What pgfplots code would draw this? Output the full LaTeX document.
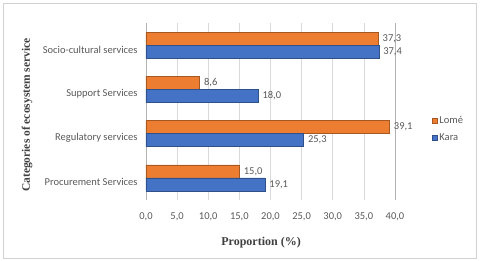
\documentclass[border=0pt]{standalone}
\usepackage{fontspec}
\setmainfont{Carlito}
\newfontfamily\titlefont{Liberation Serif}
\usepackage{pgfplots}
\pgfplotsset{compat=1.18}
\definecolor{lome}{HTML}{ED7D31}
\definecolor{kara}{HTML}{4472C4}
\definecolor{txt}{HTML}{595959}
\definecolor{ttl}{HTML}{404040}
\begin{document}
\begin{tikzpicture}[x=1pt,y=1pt]
\path (0,0) rectangle (480,261);
\draw[gray!35, line width=0.8pt] (3,3) rectangle (476,258);
\begin{axis}[
  at={(146pt,61pt)}, anchor=south west,
  scale only axis, width=249pt, height=177pt,
  xbar, bar width=13pt,
  xmin=0, xmax=40, ymin=-0.5, ymax=3.5,
  xtick={0,5,...,40},
  ytick={0,1,2,3},
  yticklabels={Procurement Services, Regulatory services, Support Services, Socio-cultural services},
  major tick length=0pt,
  xmajorgrids, grid style={gray!30, line width=0.5pt},
  separate axis lines,
  x axis line style={draw=none},
  y axis line style={gray!60},
  tick label style={font=\fontsize{10.5}{12}\selectfont, text=txt},
  yticklabel style={yshift=-4.5pt, xshift=-5pt},
  xticklabel style={yshift=-9pt, /pgf/number format/.cd, fixed, fixed zerofill, precision=1, use comma},
  /pgf/number format/assume math mode=true,
  xlabel={\titlefont\bfseries Proportion (\%)},
  xlabel style={at={(rel axis cs:0.462,0)}, anchor=center, yshift=-43pt, text=ttl, font=\fontsize{12}{14}\selectfont},
  ylabel={\titlefont\bfseries Categories of ecosystem service},
  ylabel style={at={(rel axis cs:-0.478,0.48)}, anchor=center, rotate=0, text=ttl, font=\fontsize{11.5}{14}\selectfont},
  nodes near coords,
  every node near coord/.append style={font=\fontsize{10.5}{12}\selectfont, text=txt, xshift=1pt, /pgf/number format/.cd, fixed, fixed zerofill, precision=1, use comma, assume math mode=true},
  legend style={at={(rel axis cs:1.148,0.40)}, anchor=west, draw=none, fill=none, font=\fontsize{10.5}{12}\selectfont, text=txt, row sep=4pt, inner sep=0pt},
  legend cell align=left,
  legend image code/.code={\fill[#1] (0pt,-2.5pt) rectangle (5pt,2.5pt);},
]
\addplot[fill=lome, draw=lome!70!black, line width=0.4pt, bar shift=6.5pt] coordinates {(15.0,0) (39.1,1) (8.6,2) (37.3,3)};
\addplot[fill=kara, draw=kara!70!black, line width=0.4pt, bar shift=-6.5pt] coordinates {(19.1,0) (25.3,1) (18.0,2) (37.4,3)};
\legend{Lomé, Kara}
\end{axis}
\end{tikzpicture}
\end{document}
